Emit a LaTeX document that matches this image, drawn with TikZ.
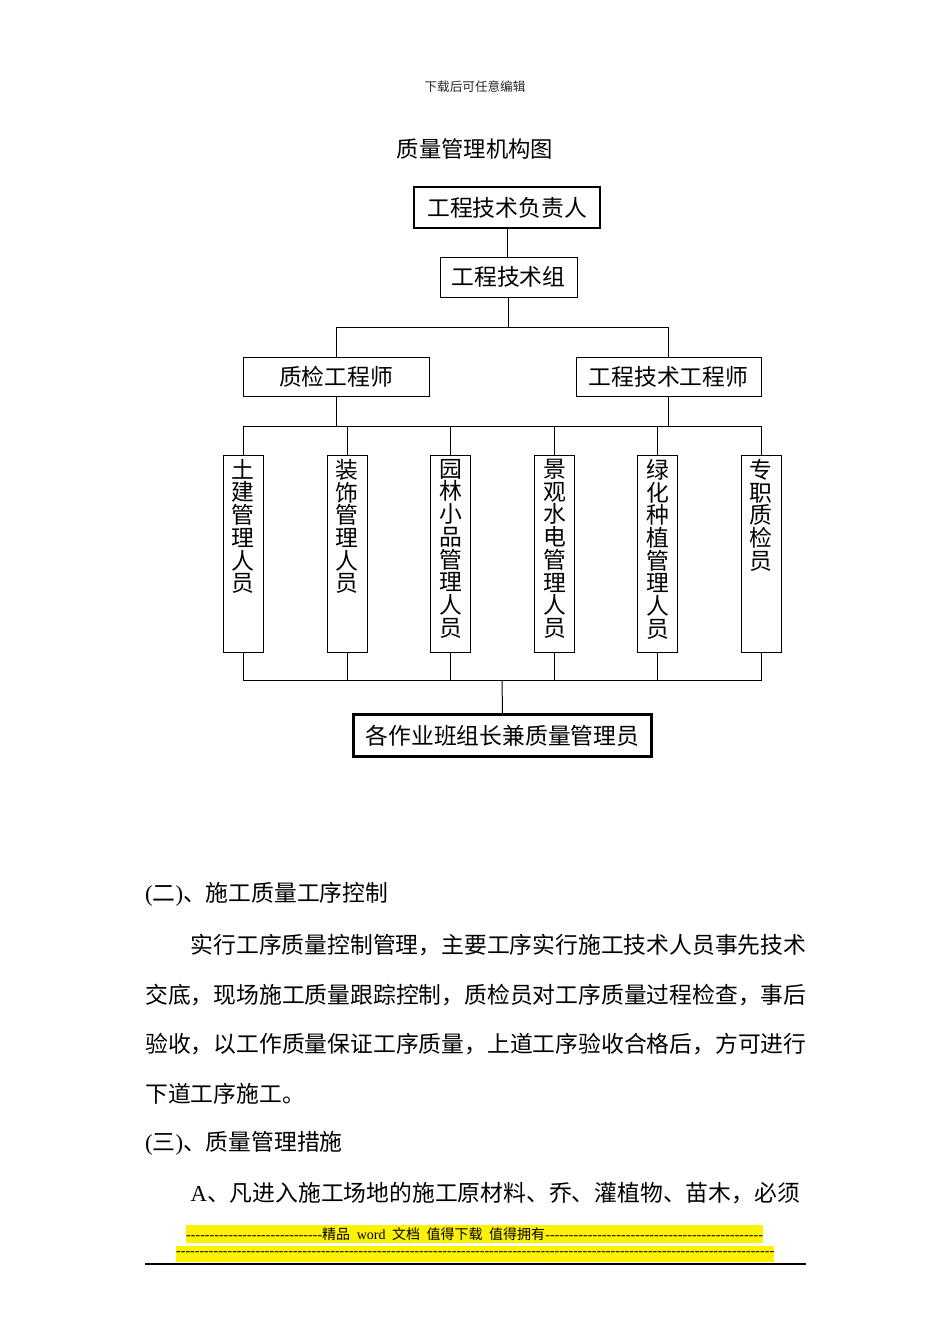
\documentclass[tikz,border=0pt]{standalone}
\usepackage{fontspec}
\setmainfont{Noto Sans CJK SC}
\newfontfamily\lat{Liberation Serif}
\newcommand{\dashfill}[1]{\makebox[#1]{\xleaders\hbox{-}\hfill}}
\tikzset{
  box/.style={draw, line width=1pt, inner sep=0pt, font=\fontsize{22.8}{24}\selectfont},
  thickbox/.style={box, line width=2.6pt},
  vbox/.style={draw, line width=1pt, inner sep=0pt, anchor=north, minimum width=40pt, minimum height=197pt},
  vtext/.style={anchor=north, align=center, inner sep=0pt, font={\fontsize{22.8}{22.7}\selectfont\lineskiplimit=-100pt}},
  link/.style={line width=1pt},
  body/.style={anchor=west, inner sep=0pt, font=\fontsize{22.8}{24}\selectfont},
}
\begin{document}
\begin{tikzpicture}[x=1pt,y=-1pt]
\useasboundingbox[fill=white] (0,0) rectangle (950,1344);

% header and title
\node[inner sep=0pt, text=black!85, font=\fontsize{12.6}{14}\selectfont] (hdr) at (475,87) {下载后可任意编辑};
\node[inner sep=0pt, font=\fontsize{22.3}{24}\selectfont] (title) at (475,149) {质量管理机构图};

% upper boxes
\node[thickbox, minimum width=186pt, minimum height=41pt] (b1) at (507,207.5) {工程技术负责人};
\node[box, minimum width=137pt, minimum height=40pt] (b2) at (508.5,277) {工程技术组};
\node[box, minimum width=186pt, minimum height=39pt] (b3) at (336,376.5) {质检工程师};
\node[box, minimum width=185pt, minimum height=39pt] (b4) at (668.5,376.5) {工程技术工程师};

% vertical boxes
\node[vbox] (s1) at (243,455) {};
\node[vbox] (s2) at (347,455) {};
\node[vbox] (s3) at (450.5,455) {};
\node[vbox] (s4) at (554.5,455) {};
\node[vbox] (s5) at (657.5,455) {};
\node[vbox] (s6) at (761,455) {};
\node[vtext] (t1) at (243,459) {土\\建\\管\\理\\人\\员};
\node[vtext] (t2) at (347,459) {装\\饰\\管\\理\\人\\员};
\node[vtext] (t3) at (450.5,459) {园\\林\\小\\品\\管\\理\\人\\员};
\node[vtext] (t4) at (554.5,459) {景\\观\\水\\电\\管\\理\\人\\员};
\node[vtext] (t5) at (657.5,459) {绿\\化\\种\\植\\管\\理\\人\\员};
\node[vtext] (t6) at (761,459) {专\\职\\质\\检\\员};

% bottom box
\node[thickbox, minimum width=298pt, minimum height=42pt] (bot) at (502.5,735.5) {各作业班组长兼质量管理员};

% connectors
\coordinate (j1) at (508.5,327);
\coordinate (j2) at (502,426);
\coordinate (j3) at (502,680);
\draw[link] (b1.south) -- (b1.south |- b2.north);
\draw[link] (b2.south) -- (j1);
\draw[link] (b3.north) -- (b3.north |- j1) -- (b4.north |- j1) -- (b4.north);
\draw[link] (b3.south) -- (b3.south |- j2);
\draw[link] (b4.south) -- (b4.south |- j2);
\draw[link] (s1.north) -- (s1.north |- j2) -- (s6.north |- j2) -- (s6.north);
\foreach \k in {2,3,4,5} { \draw[link] (s\k.north) -- (s\k.north |- j2); }
\draw[link] (s1.south) -- (s1.south |- j3) -- (s6.south |- j3) -- (s6.south);
\foreach \k in {2,3,4,5} { \draw[link] (s\k.south) -- (s\k.south |- j3); }
\draw[link] (j3) -- (bot.north);

% body text
\node[body] (p1) at (145,894) {{\lat(}二{\lat)}、施工质量工序控制};
\node[body] (p2) at (190.5,945) {实行工序质量控制管理，主要工序实行施工技术人员事先技术};
\node[body] (p3) at (145,995) {交底，现场施工质量跟踪控制，质检员对工序质量过程检查，事后};
\node[body] (p4) at (145,1044) {验收，以工作质量保证工序质量，上道工序验收合格后，方可进行};
\node[body] (p5) at (145,1094) {下道工序施工。};
\node[body] (p6) at (145,1143) {{\lat(}三{\lat)}、质量管理措施};
\node[body] (p7) at (190.5,1193) {{\lat A}、凡进入施工场地的施工原材料、乔、灌植物、苗木，必须};

% footer
\node[fill=yellow, anchor=west, inner sep=0pt, minimum height=18pt, font=\fontsize{14}{16}\selectfont] (f1) at (186,1234)
  {{\lat\dashfill{136pt}}\makebox[223pt][s]{精品 {\lat word} 文档 值得下载 值得拥有}{\lat\dashfill{218pt}}};
\node[fill=yellow, anchor=west, inner sep=0pt, minimum height=16pt, font=\fontsize{14}{16}\selectfont] (f2) at (176,1254)
  {{\lat\dashfill{598pt}}};
\draw[line width=1.8pt] (145,1264) coordinate (r1) -- (806,1264) coordinate (r2);
\end{tikzpicture}
\end{document}
